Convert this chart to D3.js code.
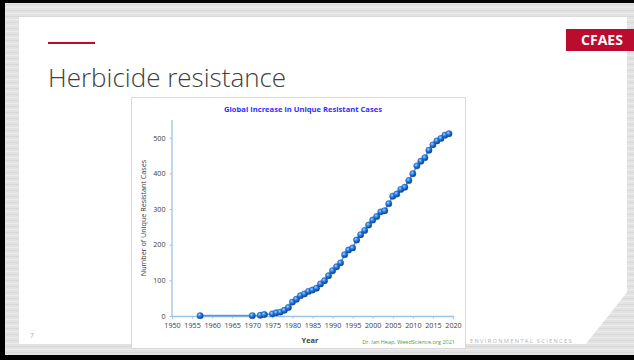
<!DOCTYPE html>
<html>
<head>
<meta charset="utf-8">
<script src="https://cdn.jsdelivr.net/npm/d3@7/dist/d3.min.js"></script>
<style>
  html, body { margin: 0; padding: 0; background: #000; }
  svg { display: block; }
</style>
</head>
<body>
<svg id="slide" width="634" height="360"></svg>
<script>
// Unique herbicide-resistant weed cases, cumulative by year
const years = [1957, 1970, 1972, 1973, 1975, 1976, 1977, 1978, 1979, 1980,
  1981, 1982, 1983, 1984, 1985, 1986, 1987, 1988, 1989, 1990,
  1991, 1992, 1993, 1994, 1995, 1996, 1997, 1998, 1999, 2000,
  2001, 2002, 2003, 2004, 2005, 2006, 2007, 2008, 2009, 2010,
  2011, 2012, 2013, 2014, 2015, 2016, 2017, 2018, 2019];
const cases = [1, 1, 2, 4, 6, 9, 11, 16, 24, 39,
  47, 57, 62, 69, 73, 78, 90, 99, 113, 127,
  138, 149, 172, 185, 191, 213, 228, 240, 255, 269,
  279, 292, 295, 315, 336, 342, 355, 361, 380, 399,
  421, 434, 444, 465, 480, 491, 498, 507, 511];
const xTicks = [1950, 1955, 1960, 1965, 1970, 1975, 1980, 1985, 1990, 1995, 2000, 2005, 2010, 2015, 2020];
const yTicks = [0, 100, 200, 300, 400, 500];

const svg = d3.select("#slide");
const defs = svg.append("defs");

// brushed grey frame texture
const brush = defs.append("pattern").attr("id", "brush")
  .attr("patternUnits", "userSpaceOnUse").attr("width", 634).attr("height", 6);
brush.append("rect").attr("width", 634).attr("height", 6).attr("fill", "#e2e2e2");
brush.append("rect").attr("y", 1).attr("width", 634).attr("height", 1).attr("fill", "#ebebeb");
brush.append("rect").attr("y", 4).attr("width", 634).attr("height", 1).attr("fill", "#d9d9d9");

// sphere shading for the markers
const sphere = defs.append("radialGradient").attr("id", "sphere")
  .attr("cx", "38%").attr("cy", "35%").attr("r", "65%");
sphere.append("stop").attr("offset", "0%").attr("stop-color", "#9fd4ff");
sphere.append("stop").attr("offset", "45%").attr("stop-color", "#2a7de0");
sphere.append("stop").attr("offset", "100%").attr("stop-color", "#0a3a8c");

// slide frame
svg.append("rect").attr("width", 634).attr("height", 360).attr("fill", "#000");
svg.append("rect").attr("x", 5).attr("y", 3).attr("width", 629).attr("height", 352).attr("fill", "url(#brush)");
svg.append("rect").attr("x", 19).attr("y", 17).attr("width", 608).attr("height", 327).attr("fill", "#fff");
svg.append("polygon").attr("points", "628,291 628,345 585,345").attr("fill", "url(#brush)");

// header
svg.append("rect").attr("x", 48).attr("y", 42).attr("width", 47).attr("height", 2).attr("fill", "#ba0c2f");
svg.append("rect").attr("x", 566).attr("y", 29).attr("width", 68).attr("height", 22).attr("fill", "#ba0c2f");
svg.append("text").attr("x", 602).attr("y", 45).attr("text-anchor", "middle")
  .attr("font-family", "Open Sans, sans-serif").attr("font-weight", 700).attr("font-size", 14)
  .attr("fill", "#fff").text("CFAES");
svg.append("text").attr("x", 48).attr("y", 87)
  .attr("font-family", "Open Sans, sans-serif").attr("font-weight", 300).attr("font-size", 26)
  .attr("fill", "#404040").text("Herbicide resistance");

// footer
svg.append("text").attr("x", 30).attr("y", 338)
  .attr("font-family", "Open Sans, sans-serif").attr("font-size", 6.5).attr("fill", "#aaa").text("7");
svg.append("text").attr("x", 470).attr("y", 343)
  .attr("font-family", "Open Sans, sans-serif").attr("font-size", 5.8).attr("letter-spacing", 1.25)
  .attr("fill", "#b3b3b3").text("ENVIRONMENTAL SCIENCES");

// chart panel
svg.append("rect").attr("x", 131.5).attr("y", 97.5).attr("width", 334).attr("height", 251)
  .attr("fill", "#fff").attr("stroke", "#d9d9d9");

const x = d3.scaleLinear().domain([1950, 2020]).range([172, 453]);
const y = d3.scaleLinear().domain([0, 500]).range([316, 137.7]);
const axisColor = "#9dc3e6";
const font = "Open Sans, sans-serif";

svg.append("text").attr("x", 303).attr("y", 112).attr("text-anchor", "middle")
  .attr("font-family", font).attr("font-weight", 700).attr("font-size", 7.6)
  .attr("fill", "#2f2fff").text("Global Increase in Unique Resistant Cases");

const xAxis = svg.append("g").attr("transform", `translate(0,${y(0)})`)
  .call(d3.axisBottom(x).tickValues(xTicks).tickFormat(d3.format("d")).tickSize(2.5).tickPadding(4));
const yAxis = svg.append("g").attr("transform", `translate(${x(1950)},0)`)
  .call(d3.axisLeft(y).tickValues(yTicks).tickSize(2.5).tickPadding(4));
yAxis.select(".domain").attr("d", `M0,${y(0)}V120`);
[xAxis, yAxis].forEach(g => {
  g.select(".domain").attr("stroke", axisColor).attr("stroke-width", 1.3);
  g.selectAll(".tick line").attr("stroke", axisColor);
  g.selectAll(".tick text").attr("font-family", font).attr("font-size", 7.2).attr("fill", "#404040");
});

svg.append("text").attr("x", 310).attr("y", 343).attr("text-anchor", "middle")
  .attr("font-family", font).attr("font-weight", 700).attr("font-size", 7.4)
  .attr("fill", "#404040").text("Year");
svg.append("text").attr("transform", `translate(146,218) rotate(-90)`).attr("text-anchor", "middle")
  .attr("font-family", font).attr("font-size", 7.2)
  .attr("fill", "#404040").text("Number of Unique Resistant Cases");
svg.append("text").attr("x", 455).attr("y", 344).attr("text-anchor", "end")
  .attr("font-family", font).attr("font-size", 5.5)
  .attr("fill", "#5a9a3a").text("Dr. Ian Heap, WeedScience.org  2021");

const pts = years.map((yr, i) => ({ yr, v: cases[i] }));
svg.append("path").datum(pts)
  .attr("fill", "none").attr("stroke", "#5b9bd5").attr("stroke-width", 1.6)
  .attr("d", d3.line().x(d => x(d.yr)).y(d => y(d.v)));
svg.append("g").selectAll("circle").data(pts).join("circle")
  .attr("cx", d => x(d.yr)).attr("cy", d => y(d.v)).attr("r", 3.2)
  .attr("fill", "url(#sphere)").attr("stroke", "#1f5fb8").attr("stroke-width", 0.4);
</script>
</body>
</html>
